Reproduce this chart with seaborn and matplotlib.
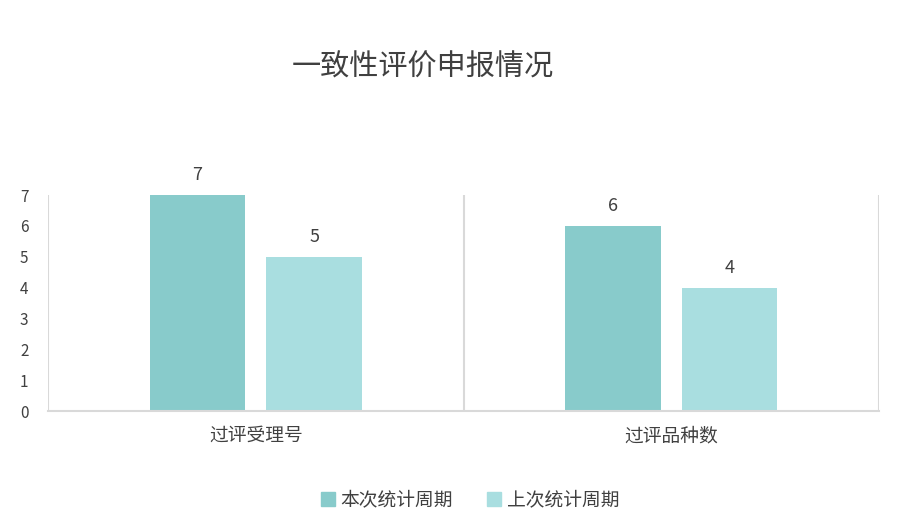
import numpy as np
import pandas as pd
import matplotlib
matplotlib.use("Agg")
import matplotlib.pyplot as plt
import seaborn as sns

sns.set_style("white")
plt.rcParams['font.family'] = ['Noto Sans CJK SC', 'DejaVu Sans']

categories = ["过评受理号", "过评品种数"]
series = ["本次统计周期", "上次统计周期"]
current = [7, 6]
previous = [5, 4]
colors = ["#88cbcb", "#a9dee0"]

df = pd.DataFrame({
    "cat": categories * 2,
    "series": [series[0]] * 2 + [series[1]] * 2,
    "val": current + previous,
})

txt = "#404040"
grid = "#d9d9d9"

fig = plt.figure(figsize=(9, 5.25), dpi=100)
ax = fig.add_axes([0.0533, 0.217, 0.9234, 0.4114])

sns.barplot(data=df, x="cat", y="val", hue="series", hue_order=series,
            palette=colors, width=0.5615, gap=0.184, ax=ax, legend=False,
            saturation=1, linewidth=0)

for cont in ax.containers:
    ax.bar_label(cont, padding=8, fontsize=13, color=txt)

ax.set_xlim(-0.5, 1.5)
ax.set_ylim(0, 7)
ax.set_yticks(range(0, 8))
for xv in [-0.5, 0.5, 1.5]:
    ax.axvline(xv, color=grid, lw=1.5, zorder=0)
for s in ["top", "right", "left"]:
    ax.spines[s].set_visible(False)
ax.spines["bottom"].set_color(grid)
ax.spines["bottom"].set_linewidth(1.5)
ax.tick_params(axis="both", length=0)
ax.tick_params(axis="y", labelsize=11, labelcolor=txt, pad=14)
ax.tick_params(axis="x", labelsize=13.5, labelcolor=txt, pad=10)
ax.set_xlabel("")
ax.set_ylabel("")

fig.text(423 / 900, 1 - 68 / 525, "一致性评价申报情况", ha="center", va="center",
         fontsize=21, color=txt)

handles = [plt.Rectangle((0, 0), 1, 1, color=c) for c in colors]
fig.legend(handles, series, loc="center", bbox_to_anchor=(470 / 900, 1 - 500 / 525),
           ncol=2, frameon=False, fontsize=13.5, labelcolor=txt,
           handlelength=0.75, handleheight=0.75, handletextpad=0.3, columnspacing=1.8)

fig.savefig("out.png", dpi=100)
